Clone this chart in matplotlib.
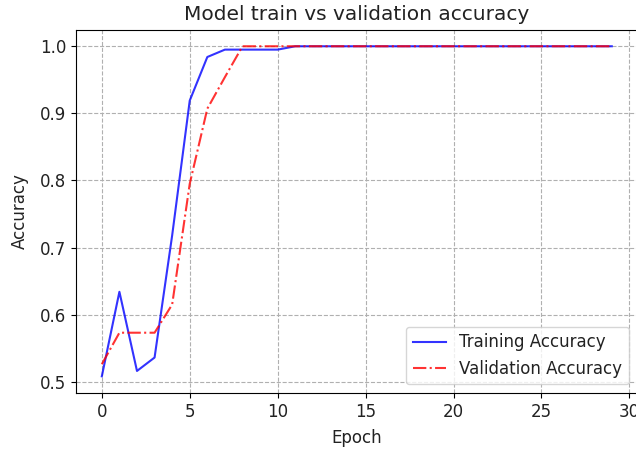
import matplotlib
matplotlib.use('Agg')
import matplotlib.pyplot as plt
import numpy as np

# Accuracy per epoch
train_acc = [0.508, 0.634, 0.516, 0.536, 0.718, 0.919, 0.984, 0.995, 0.995, 0.995,
             0.995, 1.0, 1.0, 1.0, 1.0, 1.0, 1.0, 1.0, 1.0, 1.0,
             1.0, 1.0, 1.0, 1.0, 1.0, 1.0, 1.0, 1.0, 1.0, 1.0]
val_acc = [0.526, 0.573, 0.573, 0.573, 0.615, 0.795, 0.907, 0.954, 1.0, 1.0,
           1.0, 1.0, 1.0, 1.0, 1.0, 1.0, 1.0, 1.0, 1.0, 1.0,
           1.0, 1.0, 1.0, 1.0, 1.0, 1.0, 1.0, 1.0, 1.0, 1.0]
epochs = np.arange(len(train_acc))

fig = plt.figure(figsize=(6.36, 4.51), dpi=100)
ax = fig.add_axes([0.12, 0.129, 0.882, 0.805])

ax.plot(epochs, train_acc, 'b-', alpha=0.8, label='Training Accuracy')
ax.plot(epochs, val_acc, 'r-.', alpha=0.8, label='Validation Accuracy')

ax.grid(True, linestyle='--', color='#b0b0b0')
ax.set_title('Model train vs validation accuracy', fontsize=14.5, color='#222222', pad=7)
ax.set_xlabel('Epoch', fontsize=12, color='#222222', labelpad=6)
ax.set_ylabel('Accuracy', fontsize=12, color='#222222', labelpad=8)
ax.tick_params(labelsize=12, labelcolor='#222222')
leg = ax.legend(loc='lower right', fontsize=12)
for t in leg.get_texts():
    t.set_color('#222222')

plt.savefig('out.png', dpi=100)
